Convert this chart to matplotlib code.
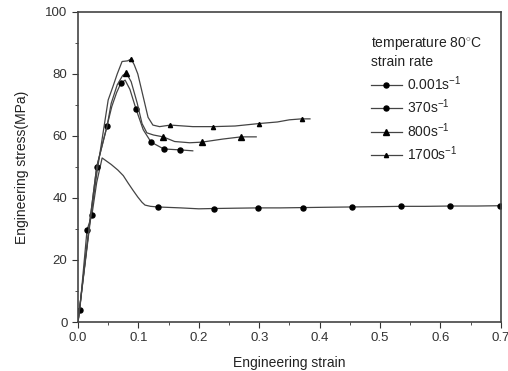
import matplotlib.pyplot as plt
from matplotlib.ticker import MultipleLocator

plt.rcParams['font.family'] = ['Liberation Sans', 'DejaVu Sans']
plt.rcParams['mathtext.fontset'] = 'custom'
plt.rcParams['mathtext.rm'] = 'Liberation Sans'
plt.rcParams['mathtext.it'] = 'Liberation Sans'

# quasi-static, 0.001 s^-1
strain_qs = [0, 0.003, 0.015, 0.023, 0.031, 0.04, 0.055, 0.066, 0.075, 0.083, 0.091,
             0.099, 0.106, 0.111, 0.12, 0.132, 0.17, 0.2, 0.225, 0.26, 0.298, 0.335,
             0.372, 0.41, 0.453, 0.5, 0.535, 0.575, 0.616, 0.66, 0.699]
stress_qs = [0, 3.9, 29.7, 34.5, 45.0, 52.9, 50.8, 49.0, 47.2, 44.8, 42.5,
             40.3, 38.6, 37.7, 37.3, 37.1, 36.8, 36.5, 36.6, 36.7, 36.8, 36.8,
             36.9, 37.0, 37.1, 37.2, 37.3, 37.3, 37.4, 37.4, 37.5]
marks_qs = [1, 2, 3, 15, 18, 20, 22, 24, 26, 28, 30]

# 370 s^-1
strain_370 = [0, 0.02, 0.031, 0.048, 0.056, 0.064, 0.071, 0.078, 0.086, 0.096, 0.108,
              0.121, 0.142, 0.169, 0.19]
stress_370 = [0, 33.0, 50.0, 63.2, 69.5, 74.0, 77.0, 78.0, 75.0, 68.7, 62.0,
              58.0, 55.8, 55.5, 55.2]
marks_370 = [2, 3, 6, 9, 11, 12, 13]

# 800 s^-1
strain_800 = [0, 0.02, 0.031, 0.048, 0.055, 0.065, 0.074, 0.08, 0.088, 0.098, 0.106,
              0.114, 0.125, 0.141, 0.16, 0.185, 0.205, 0.24, 0.27, 0.295]
stress_800 = [0, 33.0, 50.0, 63.0, 70.5, 76.5, 79.5, 80.3, 77.5, 70.6, 64.0,
              61.0, 60.3, 59.7, 58.2, 57.8, 58.0, 59.0, 59.7, 59.7]
marks_800 = [7, 13, 16, 18]

# 1700 s^-1
strain_1700 = [0, 0.02, 0.032, 0.05, 0.058, 0.065, 0.073, 0.082, 0.088, 0.093, 0.099,
               0.108, 0.116, 0.124, 0.135, 0.153, 0.19, 0.224, 0.26, 0.3, 0.33,
               0.35, 0.37, 0.384]
stress_1700 = [0, 32.0, 49.0, 71.6, 76.0, 80.0, 84.0, 84.2, 84.8, 83.0, 80.0,
               72.6, 66.0, 63.5, 63.0, 63.5, 63.0, 63.0, 63.2, 64.0, 64.5,
               65.2, 65.5, 65.5]
marks_1700 = [8, 15, 17, 19, 22]

labels = ['0.001s$^{-1}$', '370s$^{-1}$', '800s$^{-1}$', '1700s$^{-1}$']

fig = plt.figure(figsize=(5.08, 3.71), dpi=100)
ax = fig.add_axes([0.1535, 0.132, 0.8325, 0.836])

line_kw = dict(color='#444444', linewidth=0.9, markerfacecolor='black',
               markeredgecolor='black')
ax.plot(strain_qs, stress_qs, marker='o', markersize=3.6, markevery=marks_qs,
        label=labels[0], **line_kw)
ax.plot(strain_370, stress_370, marker='o', markersize=3.6, markevery=marks_370,
        label=labels[1], **line_kw)
ax.plot(strain_800, stress_800, marker='^', markersize=4, markevery=marks_800,
        label=labels[2], **line_kw)
ax.plot(strain_1700, stress_1700, marker='^', markersize=3, markevery=marks_1700,
        label=labels[3], **line_kw)

ax.set_xlim(0, 0.7)
ax.set_ylim(0, 100)
ax.xaxis.set_major_locator(MultipleLocator(0.1))
ax.xaxis.set_minor_locator(MultipleLocator(0.05))
ax.yaxis.set_major_locator(MultipleLocator(20))
ax.yaxis.set_minor_locator(MultipleLocator(10))
ax.xaxis.set_major_formatter(plt.FuncFormatter(lambda v, p: f'{v:.1f}'))
ax.tick_params(which='both', direction='out', colors='#333333', labelsize=9.5)
ax.tick_params(which='major', length=4)
ax.tick_params(which='minor', length=2.5)
for sp in ax.spines.values():
    sp.set_color('#444444')
    sp.set_linewidth(1.2)

ax.set_xlabel('Engineering strain', fontsize=10, color='#222222', labelpad=8)
ax.set_ylabel('Engineering stress(MPa)', fontsize=10, color='#222222', labelpad=12)

leg = ax.legend(title='temperature 80$^{\\circ}$C\nstrain rate', loc='upper left',
                bbox_to_anchor=(0.67, 0.955), frameon=False, fontsize=10,
                title_fontsize=10, handlelength=2.2, handletextpad=0.4,
                labelspacing=0.35, borderpad=0.2)
leg._legend_box.align = 'left'
for t in leg.get_texts():
    t.set_color('#222222')
leg.get_title().set_color('#222222')

fig.savefig('out.png', dpi=100)
